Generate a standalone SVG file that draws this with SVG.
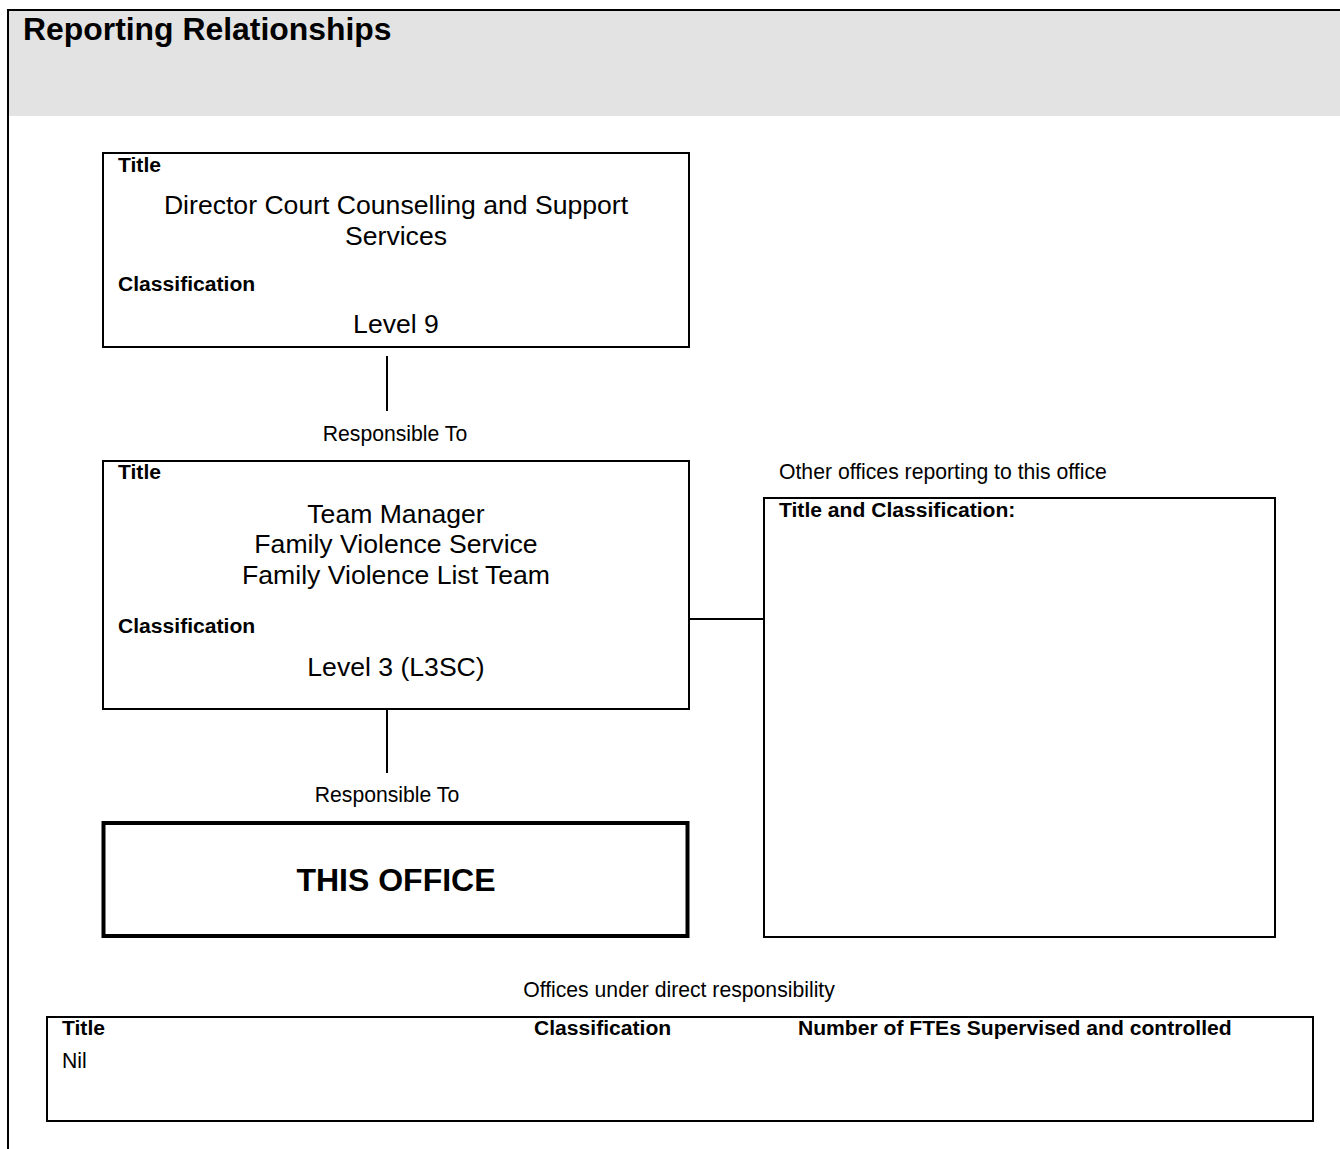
<svg xmlns="http://www.w3.org/2000/svg" width="1340" height="1149" viewBox="0 0 1340 1149">
<style>
text{font-family:"Liberation Sans",Arial,sans-serif;fill:#000}
.b{font-weight:bold}
.lbl{font-size:21.1px;font-weight:bold}
.sm{font-size:21.2px}
.big{font-size:26.6px}
.mid{text-anchor:middle}
.box{fill:#fff;stroke:#000;stroke-width:2}
.ln{stroke:#000;stroke-width:2;fill:none}
</style>
<rect x="9" y="11" width="1331" height="105" fill="#e3e3e3"/>
<line class="ln" x1="8" y1="10" x2="1340" y2="10"/>
<line class="ln" x1="8" y1="9" x2="8" y2="1149"/>
<text x="23" y="40" class="b" font-size="31.9">Reporting Relationships</text>
<g id="connectors">
<line class="ln" x1="387" y1="356" x2="387" y2="411"/>
<line class="ln" x1="387" y1="709" x2="387" y2="773"/>
<line class="ln" x1="689" y1="619" x2="764" y2="619"/>
</g>
<g id="director">
<rect class="box" x="103" y="153" width="586" height="194"/>
<text x="118" y="172" class="lbl">Title</text>
<text x="396" y="214" class="big mid">Director Court Counselling and Support</text>
<text x="396" y="245" class="big mid">Services</text>
<text x="118" y="291" class="lbl">Classification</text>
<text x="396" y="333" class="big mid">Level 9</text>
</g>
<text x="395" y="441" class="sm mid">Responsible To</text>
<g id="manager">
<rect class="box" x="103" y="461" width="586" height="248"/>
<text x="118" y="479" class="lbl">Title</text>
<text x="396" y="523" class="big mid">Team Manager</text>
<text x="396" y="553" class="big mid">Family Violence Service</text>
<text x="396" y="584" class="big mid">Family Violence List Team</text>
<text x="118" y="633" class="lbl">Classification</text>
<text x="396" y="676" class="big mid">Level 3 (L3SC)</text>
</g>
<text x="387" y="802" class="sm mid">Responsible To</text>
<g id="this-office">
<rect x="103.5" y="823" width="584" height="113" fill="#fff" stroke="#000" stroke-width="4"/>
<text x="396" y="891" class="mid b" font-size="32">THIS OFFICE</text>
</g>
<text x="779" y="479" class="sm">Other offices reporting to this office</text>
<g id="other-offices">
<rect class="box" x="764" y="498" width="511" height="439"/>
<text x="779" y="517" class="lbl">Title and Classification:</text>
</g>
<text x="679" y="997" class="sm mid">Offices under direct responsibility</text>
<g id="direct-offices">
<rect class="box" x="47" y="1017" width="1266" height="104"/>
<text x="62" y="1035" class="lbl">Title</text>
<text x="534" y="1035" class="lbl">Classification</text>
<text x="798" y="1035" class="lbl">Number of FTEs Supervised and controlled</text>
<text x="62" y="1068" class="sm">Nil</text>
</g>
</svg>
